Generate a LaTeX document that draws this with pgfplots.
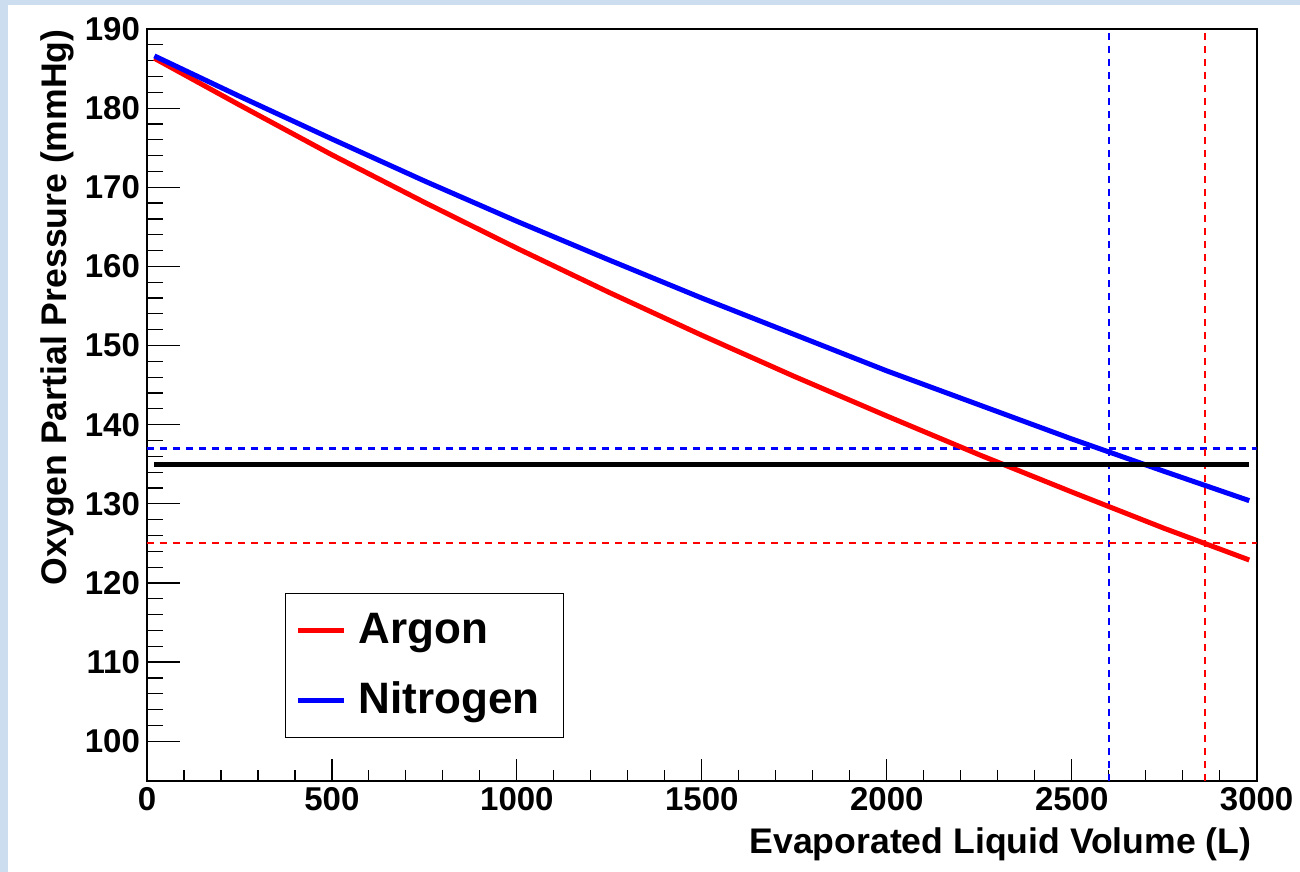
\documentclass[border=0pt]{standalone}
\usepackage{fontspec}
\setmainfont{Liberation Sans}
\usepackage{pgfplots}
\pgfplotsset{compat=1.18}
\definecolor{rootbg}{RGB}{204,221,240}
\begin{document}
\begin{tikzpicture}
\fill[rootbg] (-73.5pt,-45.5pt) rectangle (576.5pt,390.5pt);
\fill[white] (-69.5pt,-45.5pt) rectangle (576.5pt,388pt);
% axis carrying the y ticks
\begin{axis}[at={(0,0)}, anchor=south west, scale only axis,
  width=555pt, height=376pt,
  xmin=0, xmax=3000, ymin=95, ymax=190,
  hide x axis,
  axis line style={line width=1pt},
  ytick={100,110,...,190}, minor y tick num=4,
  tick pos=left, tick align=inside,
  major tick length=16.5pt, minor tick length=8pt,
  every tick/.style={black, line width=0.6pt},
  yticklabel style={font=\fontsize{16.5}{18}\selectfont\bfseries,
    /pgf/number format/assume math mode=true},
  ylabel={Oxygen Partial Pressure (mmHg)},
  ylabel style={at={(axis description cs:-0.0721,1)}, anchor=base east, inner sep=0pt,
    font=\fontsize{17.8}{20}\selectfont\bfseries},
]
\end{axis}
% main axis
\begin{axis}[at={(0,0)}, anchor=south west, scale only axis,
  width=555pt, height=376pt,
  xmin=0, xmax=3000, ymin=95, ymax=190,
  axis line style={line width=1pt},
  ytick=\empty,
  xtick={0,500,...,3000}, minor x tick num=4,
  tick pos=left, tick align=inside,
  major tick length=11pt, minor tick length=5.5pt,
  every tick/.style={black, line width=0.6pt},
  xticklabel style={font=\fontsize{16.5}{18}\selectfont\bfseries,
    /pgf/number format/assume math mode=true,
    /pgf/number format/1000 sep={}},
  xlabel={Evaporated Liquid Volume (L)},
  xlabel style={at={(axis description cs:0.9955,-0.0971)}, anchor=base east, inner sep=0pt,
    font=\fontsize{17.8}{20}\selectfont\bfseries},
  legend style={at={(axis description cs:0.1243,0.25)}, anchor=north west,
    draw=black, line width=0.7pt, fill=white,
    font=\fontsize{22}{26}\selectfont\bfseries,
    inner xsep=5pt, inner ysep=7.5pt, row sep=13pt,
    nodes={inner sep=0pt, text height=17.5pt, text depth=4.5pt},
    /tikz/every odd column/.append style={column sep=6pt}},
  legend cell align=left,
  legend image code/.code={\draw[#1, line width=2.5pt] (0pt,0pt) -- (23pt,0pt);},
]
% dashed guide lines
\addplot[forget plot, blue, line width=1.1pt, dash pattern=on 3.5pt off 3pt] coordinates {(0,137) (3000,137)};
\addplot[forget plot, blue, line width=1.1pt, dash pattern=on 3.5pt off 3pt] coordinates {(2600,95) (2600,190)};
\addplot[forget plot, red, line width=1.1pt, dash pattern=on 3.5pt off 3pt] coordinates {(0,125) (3000,125)};
\addplot[forget plot, red, line width=1.1pt, dash pattern=on 3.5pt off 3pt] coordinates {(2860,95) (2860,190)};
% curves
\addplot[red, line width=2.5pt] coordinates {
(20,186.3) (250,180.4) (500,174.1) (750,168.1) (1000,162.3) (1250,156.7)
(1500,151.3) (1750,146.1) (2000,141.1) (2250,136.2) (2500,131.5) (2750,126.9) (2980,122.9)};
\addlegendentry{Argon}
\addplot[blue, line width=2.5pt] coordinates {
(20,186.6) (250,181.5) (500,176.1) (750,170.8) (1000,165.7) (1250,160.8)
(1500,156.0) (1750,151.4) (2000,146.8) (2250,142.5) (2500,138.2) (2750,134.1) (2980,130.4)};
\addlegendentry{\makebox[97.5pt][l]{Nitrogen}}
\addplot[forget plot, black, line width=2.5pt] coordinates {(20,135) (2980,135)};
\end{axis}
\end{tikzpicture}
\end{document}
